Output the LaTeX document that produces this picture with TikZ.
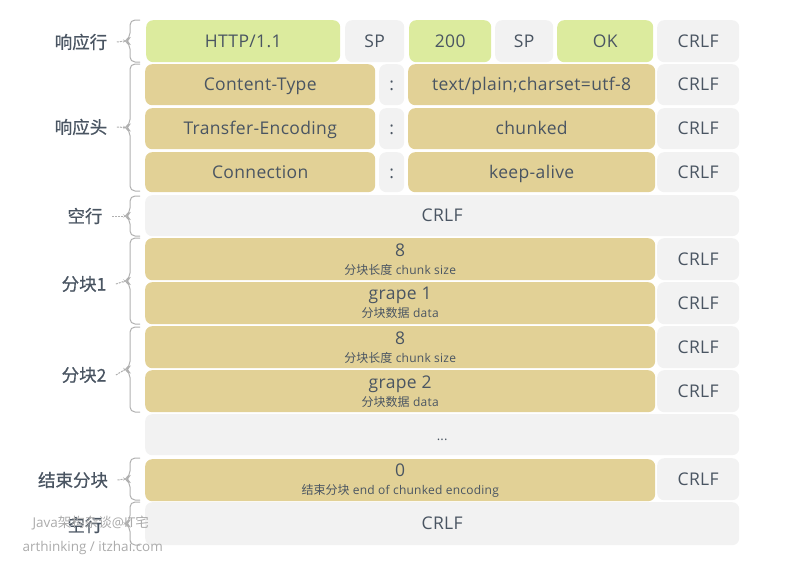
\documentclass[tikz,border=0pt]{standalone}
\usepackage{fontspec}
\setmainfont{Open Sans}[LetterSpace=2]
\newfontfamily\cjk{Noto Sans CJK SC}
\newfontfamily\cjkl{Noto Sans CJK SC}[FakeBold=0.6]
\newfontfamily\wmfont{Open Sans}
\definecolor{grn}{HTML}{DCEB9E}
\definecolor{tan}{HTML}{E2D196}
\definecolor{gry}{HTML}{F2F2F2}
\definecolor{txt}{HTML}{4A5562}
\definecolor{brc}{HTML}{B0B0B0}
\definecolor{wm}{HTML}{ABABAB}
\tikzset{
  cell/.style={rounded corners=7pt, inner sep=0pt, anchor=north west, text=txt,
    font=\fontsize{17.5}{19}\selectfont, align=center},
  one/.style={text height=16pt, text depth=4pt},
  gc/.style={cell, one, fill=grn},
  tc/.style={cell, one, fill=tan},
  yc/.style={cell, one, fill=gry},
  tc2/.style={cell, fill=tan},
  lbl/.style={text=txt, font=\cjkl\fontsize{17.5}{19}\selectfont},
  bracestyle/.style={draw=brc, line width=1pt, rounded corners=5pt},
  lead/.style={draw=brc, line width=1pt, dash pattern=on 2pt off 1pt},
  wmark/.style={text=wm, font=\wmfont\fontsize{13.5}{15}\selectfont, anchor=west}
}
\newcommand{\twol}[2]{{\fontsize{17.5}{17}\selectfont #1}\\[-1pt]{\fontsize{12}{13}\selectfont #2}}
\newcommand{\mybrace}[3]{%
  \pgfmathsetmacro\bm{(#1+#2)/2}%
  \draw[bracestyle] (140,#1) -- (130,#1) -- (130,\bm-3) -- (125,\bm) -- (130,\bm+3) -- (130,#2) -- (140,#2);
  \coordinate (#3) at (125,\bm);}
\begin{document}
\begin{tikzpicture}[x=1pt,y=-1pt]
\useasboundingbox (0,0) rectangle (800,560);
% row 1
\node[gc, minimum width=194, minimum height=42] (http) at (146,20) {HTTP/1.1};
\node[yc, minimum width=59, minimum height=42] (sp1) at (345,20) {SP};
\node[gc, minimum width=82, minimum height=42] (code) at (409,20) {200};
\node[yc, minimum width=58, minimum height=42] (sp2) at (495,20) {SP};
\node[gc, minimum width=96, minimum height=42] (ok) at (557,20) {OK};
\node[yc, minimum width=82, minimum height=42] (crlf1) at (657,20) {CRLF};
% headers
\node[tc, minimum width=230, minimum height=41] (h1) at (145,64) {Content-Type};
\node[yc, minimum width=25, minimum height=41] (c1) at (379,64) {:};
\node[tc, minimum width=247, minimum height=41] (v1) at (408,64) {text/plain;charset=utf-8};
\node[yc, minimum width=82, minimum height=41] (crlf2) at (657,64) {CRLF};
\node[tc, minimum width=230, minimum height=41] (h2) at (145,108) {Transfer-Encoding};
\node[yc, minimum width=25, minimum height=41] (c2) at (379,108) {:};
\node[tc, minimum width=247, minimum height=41] (v2) at (408,108) {chunked};
\node[yc, minimum width=82, minimum height=41] (crlf3) at (657,108) {CRLF};
\node[tc, minimum width=230, minimum height=40] (h3) at (145,152) {Connection};
\node[yc, minimum width=25, minimum height=40] (c3) at (379,152) {:};
\node[tc, minimum width=247, minimum height=40] (v3) at (408,152) {keep-alive};
\node[yc, minimum width=82, minimum height=40] (crlf4) at (657,152) {CRLF};
% empty line
\node[yc, minimum width=594, minimum height=41] (empty1) at (145,195) {CRLF};
% chunk 1
\node[tc2, minimum width=510, minimum height=42] (s1) at (145,238) {\twol{8}{{\cjk 分块长度} chunk size}};
\node[yc, minimum width=82, minimum height=42] (crlf5) at (657,238) {CRLF};
\node[tc2, minimum width=510, minimum height=42] (d1) at (145,282) {\twol{grape 1}{{\cjk 分块数据} data}};
\node[yc, minimum width=82, minimum height=42] (crlf6) at (657,282) {CRLF};
% chunk 2
\node[tc2, minimum width=510, minimum height=42] (s2) at (145,326) {\twol{8}{{\cjk 分块长度} chunk size}};
\node[yc, minimum width=82, minimum height=42] (crlf7) at (657,326) {CRLF};
\node[tc2, minimum width=510, minimum height=42] (d2) at (145,370) {\twol{grape 2}{{\cjk 分块数据} data}};
\node[yc, minimum width=82, minimum height=42] (crlf8) at (657,370) {CRLF};
% dots
\node[yc, minimum width=594, minimum height=41, font=\fontsize{13}{15}\selectfont] (dots) at (145,414) {...};
% last chunk
\node[tc2, minimum width=510, minimum height=42] (s0) at (145,459) {\twol{0}{{\cjk 结束分块} end of chunked encoding}};
\node[yc, minimum width=82, minimum height=42] (crlf9) at (657,458) {CRLF};
\node[yc, minimum width=594, minimum height=43] (empty2) at (145,502) {CRLF};
% labels
\node[lbl] (l1) at (81,42) {响应行};
\node[lbl] (l2) at (81,127) {响应头};
\node[lbl] (l3) at (85,216) {空行};
\node[lbl] (l4) at (84,284) {分块1};
\node[lbl] (l5) at (84,375) {分块2};
\node[lbl] (l6) at (73,480) {结束分块};
\node[lbl] (l7) at (85,525) {空行};
% braces
\mybrace{20}{62}{b1}
\mybrace{64}{191}{b2}
\mybrace{196}{236}{b3}
\mybrace{238}{324}{b4}
\mybrace{327}{412}{b5}
\mybrace{458}{500}{b6}
\mybrace{502}{545}{b7}
\draw[lead] ([xshift=6pt]l1.east) -- (b1);
\draw[lead] ([xshift=6pt]l2.east) -- (b2);
\draw[lead] ([xshift=6pt]l3.east) -- (b3);
\draw[lead] ([xshift=6pt]l4.east) -- (b4);
\draw[lead] ([xshift=6pt]l5.east) -- (b5);
\draw[lead] ([xshift=6pt]l6.east) -- (b6);
% watermark
\node[wmark] (wm1) at (29,523) {Java{\cjk 架构杂谈}@IT{\cjk 宅}};
\node[wmark] (wm2) at (19,548) {arthinking / itzhai.com};
\end{tikzpicture}
\end{document}
